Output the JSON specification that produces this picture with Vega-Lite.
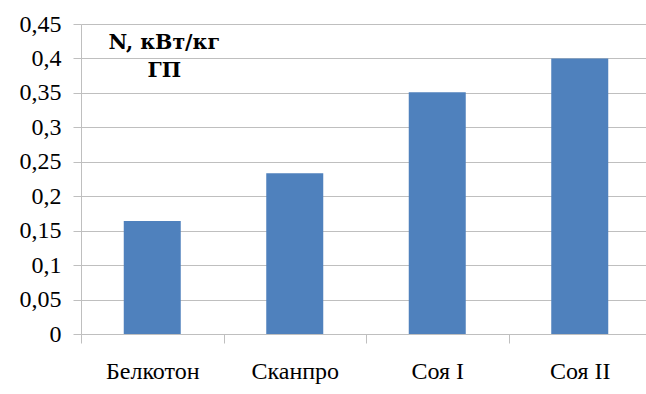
{
  "$schema": "https://vega.github.io/schema/vega-lite/v6.json",
  "width": 570,
  "height": 310,
  "autosize": {"type": "none"},
  "padding": {"left": 81, "top": 24, "right": 0, "bottom": 60},
  "background": "white",
  "config": {"view": {"stroke": null}, "font": "Liberation Serif"},
  "data": {
    "values": [
      {"product": "Белкотон", "N": 0.164},
      {"product": "Сканпро", "N": 0.2335},
      {"product": "Соя I", "N": 0.351},
      {"product": "Соя II", "N": 0.4}
    ]
  },
  "layer": [
    {
      "mark": {"type": "bar", "color": "#4f81bd"},
      "encoding": {
        "x": {
          "field": "product",
          "type": "nominal",
          "sort": null,
          "scale": {"paddingInner": 0.6, "paddingOuter": 0.3},
          "axis": {
            "title": null,
            "labelAngle": 0,
            "labelFont": "Liberation Serif",
            "labelFontSize": 24,
            "labelColor": "#000000",
            "labelPadding": 16,
            "tickSize": 9,
            "tickColor": "#bfbfbf",
            "domainColor": "#bfbfbf",
            "tickOffset": -71.25,
            "labelOffset": 71.25,
            "grid": false
          }
        },
        "y": {
          "field": "N",
          "type": "quantitative",
          "scale": {"domain": [0, 0.45], "nice": false},
          "axis": {
            "title": null,
            "values": [0, 0.05, 0.1, 0.15, 0.2, 0.25, 0.3, 0.35, 0.4, 0.45],
            "labelExpr": "replace(format(datum.value, '.2~f'), '.', ',')",
            "labelOverlap": false,
            "labelBound": false,
            "labelFlush": false,
            "labelFont": "Liberation Serif",
            "labelFontSize": 24,
            "labelColor": "#000000",
            "labelPadding": 12,
            "tickSize": 8,
            "tickColor": "#bfbfbf",
            "domainColor": "#bfbfbf",
            "gridColor": "#bfbfbf",
            "grid": true
          }
        }
      }
    },
    {
      "data": {"values": [{}]},
      "mark": {
        "type": "text",
        "text": ["N, кВт/кг", "ГП"],
        "font": "DejaVu Serif",
        "fontSize": 20.5,
        "fontWeight": "bold",
        "lineHeight": 28,
        "align": "center",
        "baseline": "alphabetic",
        "dx": 12,
        "color": "#000000"
      },
      "encoding": {
        "x": {
          "datum": "Белкотон",
          "type": "nominal",
          "axis": {
            "title": null,
            "labelAngle": 0,
            "labelFont": "Liberation Serif",
            "labelFontSize": 24,
            "labelColor": "#000000",
            "labelPadding": 16,
            "tickSize": 9,
            "tickColor": "#bfbfbf",
            "domainColor": "#bfbfbf",
            "tickOffset": -71.25,
            "labelOffset": 71.25,
            "grid": false
          }
        },
        "y": {
          "datum": 0.4137,
          "type": "quantitative",
          "axis": {
            "title": null,
            "values": [0, 0.05, 0.1, 0.15, 0.2, 0.25, 0.3, 0.35, 0.4, 0.45],
            "labelExpr": "replace(format(datum.value, '.2~f'), '.', ',')",
            "labelOverlap": false,
            "labelBound": false,
            "labelFlush": false,
            "labelFont": "Liberation Serif",
            "labelFontSize": 24,
            "labelColor": "#000000",
            "labelPadding": 12,
            "tickSize": 8,
            "tickColor": "#bfbfbf",
            "domainColor": "#bfbfbf",
            "gridColor": "#bfbfbf",
            "grid": true
          }
        }
      }
    }
  ]
}
